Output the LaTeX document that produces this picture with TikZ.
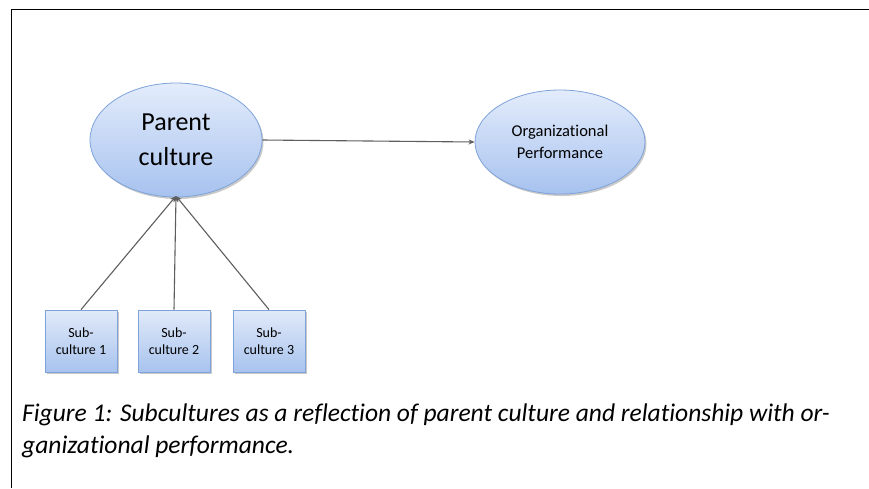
\documentclass[tikz,border=0pt]{standalone}
\usepackage{fontspec}
\setmainfont{Carlito}[Ligatures=NoCommon]
\usetikzlibrary{arrows.meta,shadows,shapes.geometric}
\definecolor{ellborder}{HTML}{7EA3DA}
\definecolor{elltop}{HTML}{E3ECFB}
\definecolor{ellbot}{HTML}{A7C2EF}
\definecolor{boxtop}{HTML}{E1EAF9}
\definecolor{boxbot}{HTML}{A8C3EE}
\definecolor{linegray}{HTML}{5E5E5E}
\tikzset{
  ell/.style={ellipse, draw=ellborder, line width=0.8pt, top color=elltop, bottom color=ellbot,
    drop shadow={shadow xshift=1.5pt, shadow yshift=-2pt, fill=black!35, opacity=0.6},
    align=center, inner sep=0pt},
  subbox/.style={rectangle, draw=ellborder, line width=0.8pt, top color=boxtop, bottom color=boxbot,
    drop shadow={shadow xshift=1.5pt, shadow yshift=-2pt, fill=black!35, opacity=0.6},
    minimum width=72pt, minimum height=62pt, align=center, inner sep=0pt,
    font=\fontsize{14}{17.5}\selectfont},
  conn/.style={draw=linegray, line width=1.1pt, -{Stealth[length=6pt,width=5pt]}},
  frame/.style={draw=black, line width=1pt}
}
\begin{document}
\begin{tikzpicture}[x=1pt,y=-1pt]
\useasboundingbox (0,0) rectangle (869,488);
\fill[white] (0,0) rectangle (869,488);
\coordinate (fA) at (11,488);
\coordinate (fB) at (11,9);
\coordinate (fC) at (869,9);
\draw[frame] (fA) -- (fB) -- (fC);
\node[ell, minimum width=172pt, minimum height=114pt, font=\fontsize{26}{35}\selectfont] (parent) at (176,140) {Parent\\culture};
\node[ell, minimum width=170pt, minimum height=104pt, font=\fontsize{16.5}{21.5}\selectfont] (org) at (560,142) {Organizational\\Performance};
\node[subbox] (s1) at (81,341) {Sub-\\culture 1};
\node[subbox] (s2) at (174,341) {Sub-\\culture 2};
\node[subbox] (s3) at (269,341) {Sub-\\culture 3};
\draw[conn] (parent.east) -- (org.west);
\coordinate (pb) at (176,196);
\draw[conn] (s1.north) -- (pb);
\draw[conn] (s2.north) -- (pb);
\draw[conn] (s3.north) -- (pb);
\node[anchor=north west, align=left, inner sep=0pt, font=\fontsize{25.5}{32}\selectfont\itshape] (cap) at (22,404)
{Figure 1: Subcultures as a reflection of parent culture and relationship with or-\\ganizational performance.};
\end{tikzpicture}
\end{document}
